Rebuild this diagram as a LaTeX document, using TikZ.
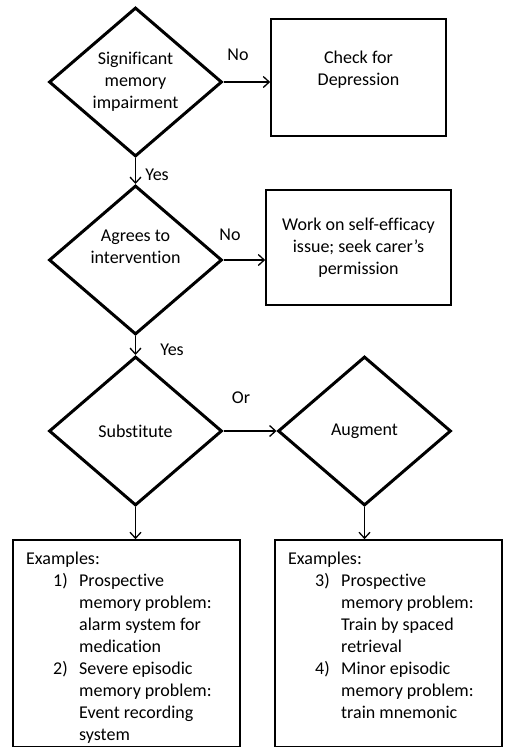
\documentclass[tikz,border=0pt]{standalone}
\usepackage{fontspec}
\setmainfont[Ligatures=NoCommon]{Carlito}
\usetikzlibrary{shapes,positioning,arrows.meta}
\tikzset{dec/.style={diamond,draw,line width=3pt,minimum width=173pt,minimum height=149pt,inner sep=0pt,align=center},
box/.style={rectangle,draw,line width=1.6pt,align=center,inner sep=0pt},
lbl/.style={inner sep=0pt},
go/.style={->,line width=1.3pt}}

\begin{document}
\begin{tikzpicture}[x=1pt,y=-1pt,>={Straight Barb[length=6pt,width=11pt]},every node/.style={font=\fontsize{18}{22}\selectfont}]
    \useasboundingbox (0,0) rectangle (508,747);

    \node[dec] (impair)at (135.5,82) {Significant\\memory\\impairment};
    \node[box,minimum width=175pt,minimum height=117pt] (dep)at (358.5,77.5) {};
    \node[lbl,align=center] (deptxt)at (358.5,70) {Check for\\Depression};

    \node[dec] (agree)at (135.5,260) {};
    \node[lbl,align=center] (agreetxt)at (135.5,247) {Agrees to\\intervention};
    \node[box,minimum width=185pt,minimum height=115pt] (perm)at (358.5,247.5) {Work on self-efficacy\\issue; seek carer's\\permission};

    \node[dec] (subst)at (135.5,431) {Substitute};
    \node[dec] (augm)at (364.5,431) {Augment};

    \node[box,minimum width=227pt,minimum height=207pt] (exl)at (126.5,643.5) {};
    \node[box,minimum width=227pt,minimum height=207pt] (exr)at (388.5,643.5) {};

    \node[lbl,anchor=north west] (exltxt)at (26,549) {\begin{tabular}{@{}p{53pt}@{}l@{}}
      \multicolumn{2}{@{}l@{}}{Examples:}\\
      \hspace*{27pt}1) & Prospective\\
       & memory problem:\\
       & alarm system for\\
       & medication\\
      \hspace*{27pt}2) & Severe episodic\\
       & memory problem:\\
       & Event recording\\
       & system
    \end{tabular}};
    \node[lbl,anchor=north west] (exrtxt)at (288,549) {\begin{tabular}{@{}p{53pt}@{}l@{}}
      \multicolumn{2}{@{}l@{}}{Examples:}\\
      \hspace*{27pt}3) & Prospective\\
       & memory problem:\\
       & Train by spaced\\
       & retrieval\\
      \hspace*{27pt}4) & Minor episodic\\
       & memory problem:\\
       & train mnemonic
    \end{tabular}};

    % connectors
    \draw [go] (impair.east) to (impair.east -| dep.west);
    \node[lbl] (no1)at (238,55) {No};
    \draw [go] (impair.south) to (agree.north);
    \node[lbl] (yes1)at (157,175) {Yes};
    \draw [go] (agree.east) to (agree.east -| perm.west);
    \node[lbl] (no2)at (230,235) {No};
    \draw [go] (agree.south) to (subst.north);
    \node[lbl] (yes2)at (172,350) {Yes};
    \draw [go] (subst.east) to (augm.west);
    \node[lbl] (or)at (241,398) {Or};
    \draw [go] (subst.south) to (subst.south |- exl.north);
    \draw [go] (augm.south) to (augm.south |- exr.north);
\end{tikzpicture}
\end{document}
